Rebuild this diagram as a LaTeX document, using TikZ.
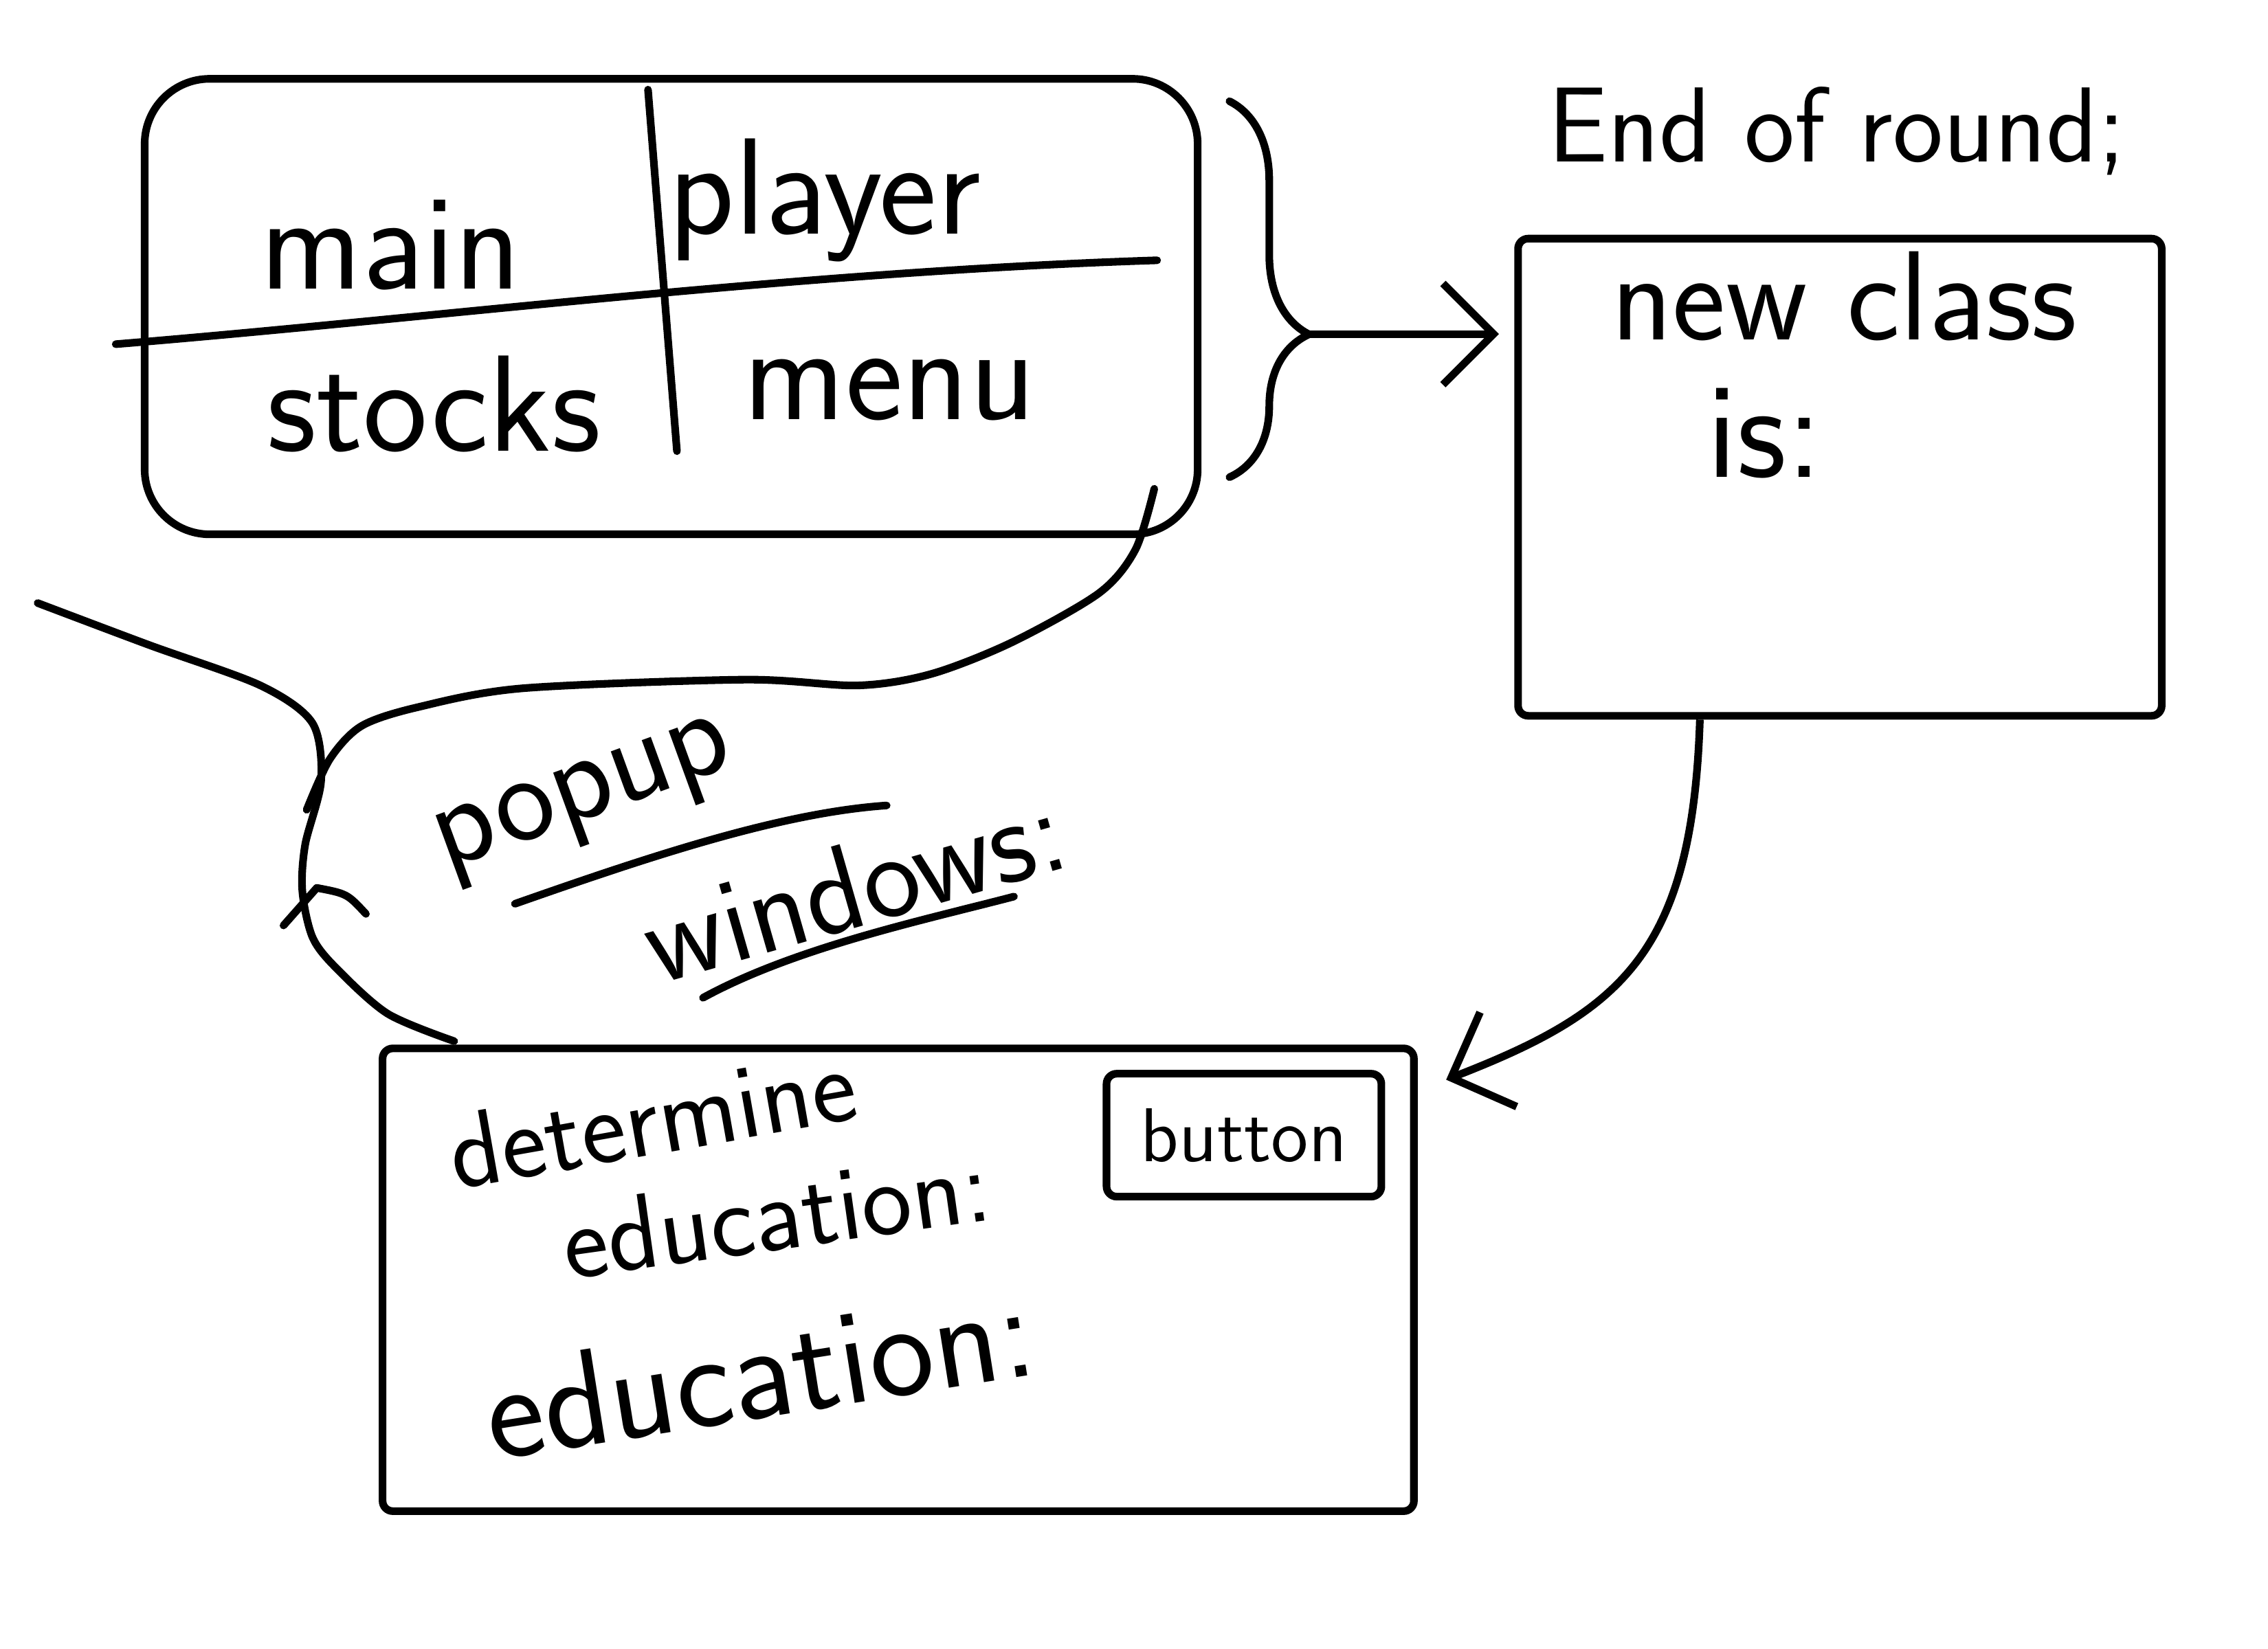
\documentclass[tikz,border=0pt]{standalone}
\usepackage{tikz}
\usetikzlibrary{shapes.geometric, arrows.meta, decorations.pathreplacing}
\tikzstyle{panel} = [rectangle, rounded corners=0.45cm, draw=black, line width=1.5pt]
\tikzstyle{plainbox} = [rectangle, rounded corners=2pt, draw=black, line width=1.5pt]
\tikzstyle{words} = [font=\sffamily\fontsize{27}{32}\selectfont, inner sep=0pt, anchor=base]
\tikzstyle{midwords} = [font=\sffamily\fontsize{21}{24}\selectfont, inner sep=0pt, anchor=base]
\tikzstyle{stroke} = [line width=1.5pt, line cap=round, line join=round]
\tikzstyle{arrow} = [line width=1.5pt, -{Straight Barb[length=0.35cm, width=0.7cm]}]

\begin{document}
\begin{tikzpicture}
	\useasboundingbox (0,0) rectangle (15.68,-11.40);
	% top box split in four
	\node (mainbox) [panel, minimum width=7.28cm, minimum height=3.15cm] at (4.64,-2.12) {};
	\draw [stroke] (0.8,-2.38) .. controls (3,-2.2) and (5.5,-1.88) .. (8.0,-1.8);
	\draw [stroke] (4.48,-0.62) -- (4.68,-3.12);
	\node (main) [words] at (2.7,-2.0) {main};
	\node (player) [words] at (5.7,-1.62) {player};
	\node (stocks) [words] at (3.0,-3.12) {stocks};
	\node (menu) [words] at (6.15,-2.9) {menu};
	% brace and arrow to the new class box
	\draw [stroke, decorate, decoration={brace, amplitude=0.55cm, aspect=0.62}] (8.5,-0.7) -- (8.5,-3.3);
	\coordinate (bracetip) at (9.05,-2.31);
	\node (endround) [midwords] at (12.7,-1.12) {End of round;};
	\node (newclass) [plainbox, minimum width=4.45cm, minimum height=3.3cm] at (12.72,-3.3) {};
	\node (newtext) [words, font=\sffamily\fontsize{25}{30}\selectfont] at (12.75,-2.35) {new class};
	\node (istext) [words] at (12.2,-3.3) {is:};
	\draw [arrow, shorten >=3pt] (bracetip) -- (bracetip -| newclass.west);
	% popup bubble
	\draw [stroke] plot [smooth] coordinates {(0.26,-4.17) (1.03,-4.46) (1.8,-4.74) (2.16,-5.0) (2.22,-5.4) (2.11,-5.84) (2.09,-6.16) (2.16,-6.48) (2.32,-6.69) (2.68,-7.01) (3.14,-7.2)};
	\draw [stroke] plot [smooth] coordinates {(2.12,-5.6) (2.28,-5.25) (2.5,-5.02) (2.89,-4.89) (3.61,-4.76) (5.15,-4.70) (5.93,-4.74) (6.44,-4.66) (7.0,-4.44) (7.6,-4.1) (7.85,-3.8) (7.98,-3.38)};
	\draw [stroke] (1.96,-6.4) -- (2.19,-6.14) .. controls (2.4,-6.18) .. (2.53,-6.32);
	\node (popup) [words, anchor=center, rotate=20, font=\sffamily\fontsize{25}{30}\selectfont] at (4.05,-5.55) {popup};
	\node (windows) [words, anchor=center, rotate=16, font=\sffamily\fontsize{24}{30}\selectfont] at (5.9,-6.12) {windows:};
	\draw [stroke] (3.56,-6.25) .. controls (4.5,-5.92) and (5.4,-5.62) .. (6.13,-5.57);
	\draw [stroke] (4.86,-6.9) .. controls (5.5,-6.55) and (6.4,-6.36) .. (7.01,-6.2);
	% lower box
	\node (lowerbox) [plainbox, minimum width=7.13cm, minimum height=3.2cm] at (6.21,-8.85) {};
	\node (determine) [midwords, rotate=10] at (4.55,-7.98) {determine};
	\node (edu) [midwords, rotate=8] at (5.4,-8.64) {education:};
	\node (button) [plainbox, minimum width=1.9cm, minimum height=0.85cm, font=\sffamily\fontsize{15}{18}\selectfont] at (8.6,-7.85) {button};
	\node (education) [words, rotate=9] at (5.3,-9.8) {education:};
	\draw [arrow, shorten >=6pt] (newclass.-120) .. controls (11.7,-6.6) and (11.2,-7.0) .. (lowerbox.20);
\end{tikzpicture}
\end{document}
